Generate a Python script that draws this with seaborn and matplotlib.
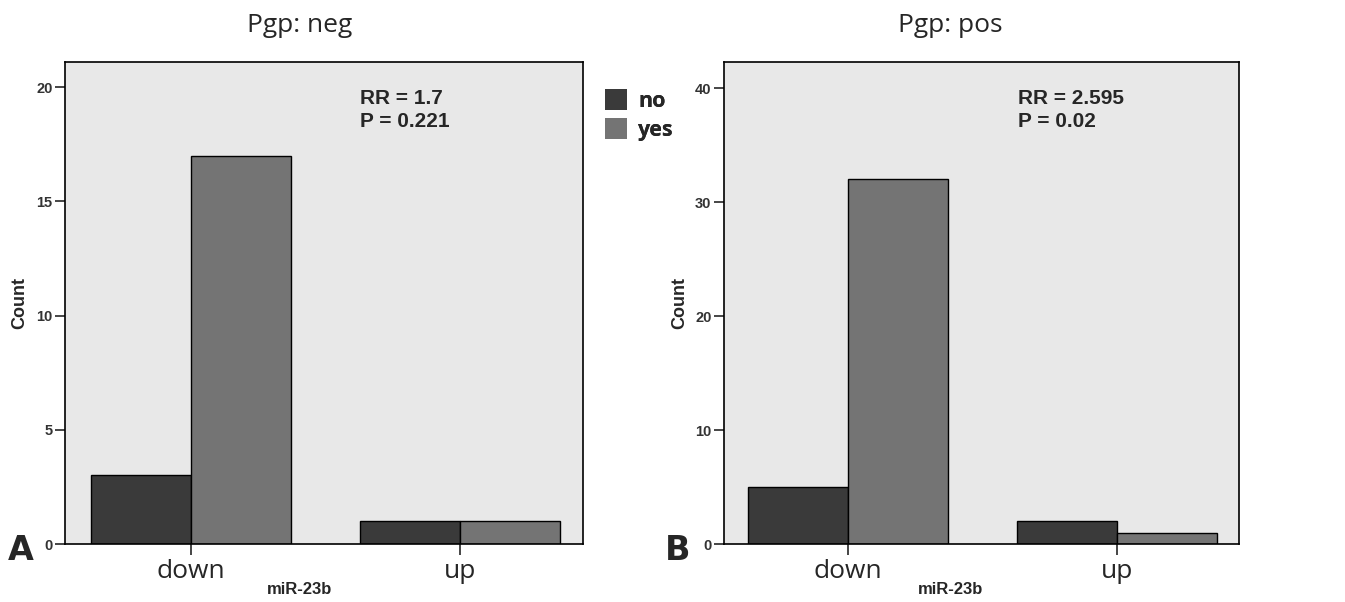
import matplotlib
matplotlib.use("Agg")
import matplotlib.pyplot as plt
import seaborn as sns
import pandas as pd
from matplotlib.patches import Patch

categories = ["down", "up"]
groups = ["no", "yes"]
neg_no = [3, 1]
neg_yes = [17, 1]
pos_no = [5, 2]
pos_yes = [32, 1]
panel_titles = ["Pgp: neg", "Pgp: pos"]
panel_letters = ["A", "B"]
stats = ["RR = 1.7\nP = 0.221", "RR = 2.595\nP = 0.02"]
yticks_list = [[0, 5, 10, 15, 20], [0, 10, 20, 30, 40]]
ylims = [21.1, 42.3]

def make_df(no_vals, yes_vals):
    rows = []
    for c, n, y in zip(categories, no_vals, yes_vals):
        rows.append({"miR-23b": c, "grp": "no", "Count": n})
        rows.append({"miR-23b": c, "grp": "yes", "Count": y})
    return pd.DataFrame(rows)

dfs = [make_df(neg_no, neg_yes), make_df(pos_no, pos_yes)]

sns.set_style("white")
plt.rcParams['font.family'] = ['Liberation Sans', 'DejaVu Sans']

colors = {"no": "#3a3a3a", "yes": "#747474"}
fig = plt.figure(figsize=(13.45, 6.02), dpi=100)
W, H = 1345, 602
axes_px = [(65, 62, 518, 482), (724, 62, 515, 482)]
xlims = [(-0.468, 1.457), (-0.461, 1.453)]
title_x = [0.452, 0.439]
letter_px = [8, 665]

for i in range(2):
    x0, y0, w, h = axes_px[i]
    ax = fig.add_axes([x0 / W, 1 - (y0 + h) / H, w / W, h / H])
    ax.set_facecolor("#e8e8e8")
    sns.barplot(data=dfs[i], x="miR-23b", y="Count", hue="grp", order=categories,
                hue_order=groups, palette=colors, width=0.743, gap=0,
                edgecolor="black", linewidth=1.0, ax=ax, legend=False)
    ax.set_xlim(*xlims[i])
    ax.set_ylim(0, ylims[i])
    ax.set_yticks(yticks_list[i])
    ax.set_yticklabels([str(t) for t in yticks_list[i]], fontsize=10.5,
                       fontweight="bold", color="#333333")
    ax.tick_params(axis="y", direction="out", length=7, width=1.2, left=True, pad=2)
    ax.tick_params(axis="x", direction="out", length=8, width=1.2, bottom=True, pad=3)
    for lbl in ax.get_xticklabels():
        lbl.set_fontfamily(["Open Sans", "DejaVu Sans"])
        lbl.set_fontsize(19)
    for s in ax.spines.values():
        s.set_visible(True)
        s.set_color("black")
        s.set_linewidth(1.2)
    ax.set_xlabel("miR-23b", fontsize=12, fontweight="bold")
    ax.xaxis.set_label_coords(title_x[i], -0.078)
    ax.set_ylabel("Count", fontsize=13, fontweight="bold")
    ax.yaxis.set_label_coords(-0.07, 0.5)
    ax.text(title_x[i], 1 + 37 / h, panel_titles[i], transform=ax.transAxes,
            ha="center", va="center", fontsize=19,
            family=["Open Sans", "DejaVu Sans"])
    ax.text(0.57, 0.945, stats[i], transform=ax.transAxes, ha="left", va="top",
            fontsize=15, fontweight="bold", linespacing=1.3)
    handles = [Patch(facecolor=colors[g], edgecolor="none") for g in groups]
    leg = ax.legend(handles, groups, loc="upper left",
                    bbox_to_anchor=((596 - x0) / w, 0.962), frameon=False,
                    handlelength=1.05, handleheight=1.1, handletextpad=0.5,
                    labelspacing=0.3, borderaxespad=0,
                    prop={"family": ["Open Sans", "DejaVu Sans"], "size": 15.5, "weight": "bold"})
    fig.text(letter_px[i] / W, 1 - 550 / H, panel_letters[i], fontsize=24,
             fontweight="bold", ha="left", va="center", family=["DejaVu Sans"])

fig.savefig("out.png", dpi=100)
